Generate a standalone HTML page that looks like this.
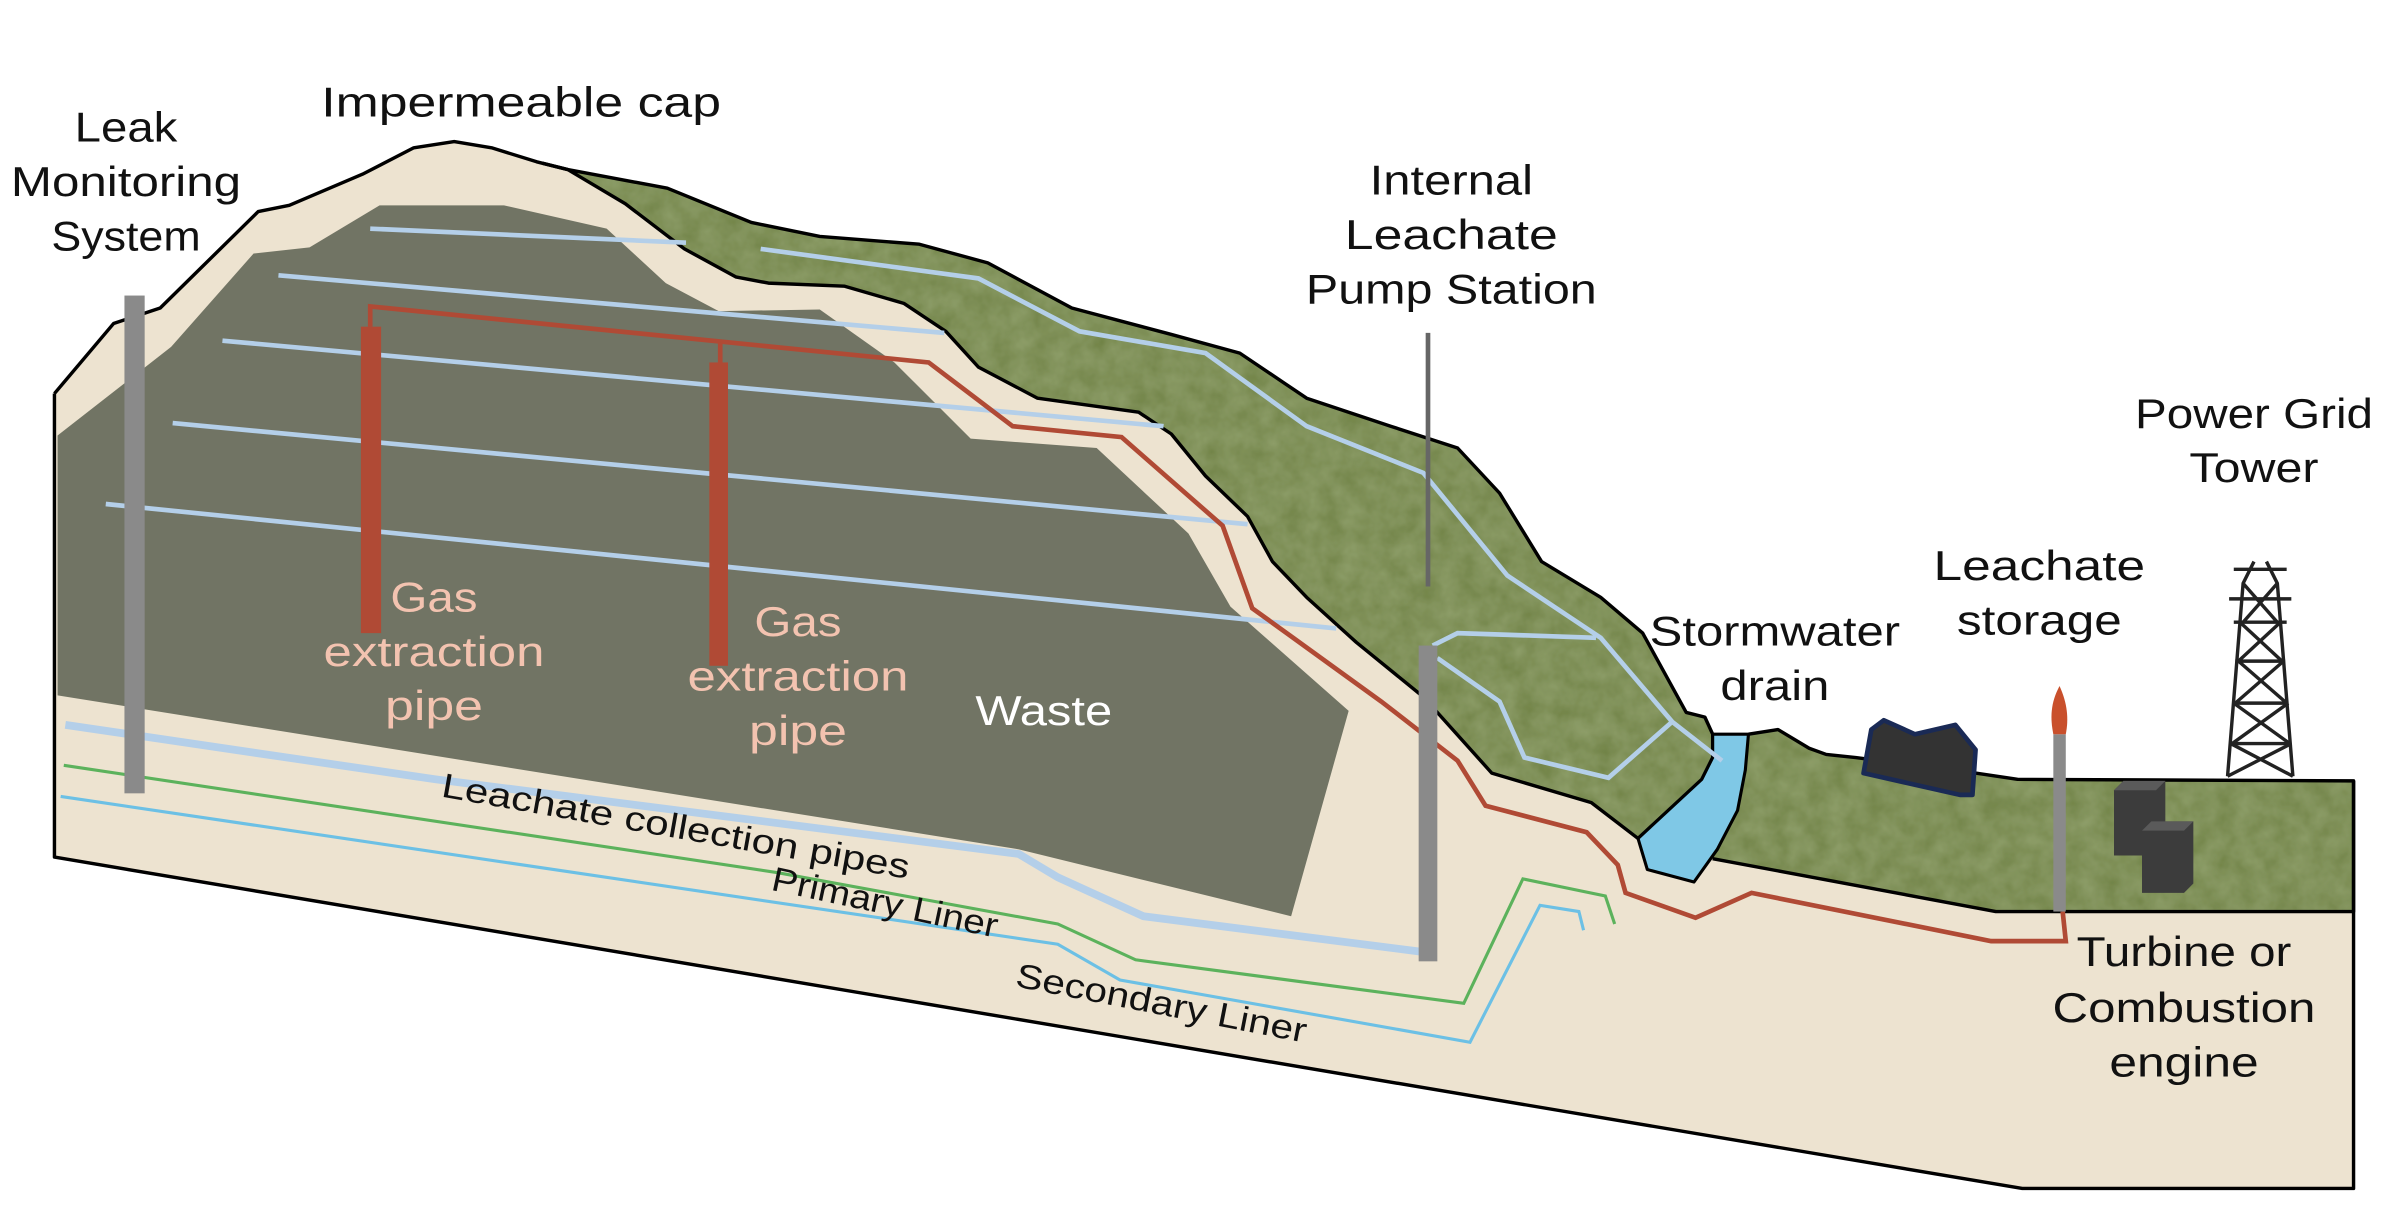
<!DOCTYPE html>
<html><head><meta charset="utf-8"><style>
html,body{margin:0;padding:0;background:#fff;}
svg{display:block;}
text{font-family:"Liberation Sans",sans-serif;}
</style></head><body>
<svg width="2408" height="1218" viewBox="0 0 1548 783" xmlns="http://www.w3.org/2000/svg">
<defs>
<filter id="grass" x="0" y="0" width="100%" height="100%">
<feTurbulence type="fractalNoise" baseFrequency="0.08" numOctaves="3" seed="3" result="n"/>
<feColorMatrix in="n" type="matrix" values="0 0 0 0 0.40  0 0 0 0 0.48  0 0 0 0 0.24  0 0 0 0.5 0" result="c"/>
<feComposite in="c" in2="SourceGraphic" operator="in" result="t"/>
<feMerge><feMergeNode in="SourceGraphic"/><feMergeNode in="t"/></feMerge>
</filter>
</defs>

<path d="M35,253 L73,208 L103,198 L166,136 L186,132 L233,112 L266,95 L292,91 L316,95 L345,104 L365,109 L429,121 L483,143 L527,152 L591,157 L635,169 L689,198 L753,215 L797,227 L840,256 L894,274 L937,288 L964,317 L991,361 L1029,384 L1056,407 L1084,458 L1096,461 L1101,472 L1124,472 L1143,469 L1163,481 L1174,485 L1193,487 L1270,497 L1297,501 L1513,502 L1513,764 L1300,764 L35,551 Z" fill="#ede3d0"/>

<path d="M37,280 L110,223 L163,163 L199,159 L244,132 L324,132 L390,147 L428,182 L462,200 L527,199 L575,233 L624,282 L705,288 L764,343 L791,390 L867,457 L830,589 L655,546 L37,447 Z" fill="#717464"/>

<path id="cap" d="M349,105 L365,109 L429,121 L483,143 L527,152 L591,157 L635,169 L689,198 L753,215 L797,227 L840,256 L894,274 L937,288 L964,317 L991,361 L1029,384 L1056,407 L1084,458 L1096,461 L1101,472 L1101,487 L1094,501 L1053,539 L1023,516 L959,497 L915,448 L872,413 L840,384 L818,361 L802,332 L775,306 L753,279 L732,265 L667,256 L629,236 L608,213 L581,195 L543,184 L494,182 L473,178 L440,160 L402,131 L365,109 Z" fill="#6f8244" filter="url(#grass)"/>
<path d="M349,105 L365,109 L429,121 L483,143 L527,152 L591,157 L635,169 L689,198 L753,215 L797,227 L840,256 L894,274 L937,288 L964,317 L991,361 L1029,384 L1056,407 L1084,458 L1096,461 L1101,472 L1101,487 L1094,501 L1053,539 L1023,516 L959,497 L915,448 L872,413 L840,384 L818,361 L802,332 L775,306 L753,279 L732,265 L667,256 L629,236 L608,213 L581,195 L543,184 L494,182 L473,178 L440,160 L402,131 L365,109 Z" fill="none" stroke="#000" stroke-width="2.2" stroke-linejoin="round"/>

<path d="M1124,472 L1143,469 L1163,481 L1174,485 L1193,487 L1270,497 L1297,501 L1513,502 L1513,586 L1283,586 L1101,552 Z" fill="#6f8244" filter="url(#grass)"/>
<path d="M1124,472 L1143,469 L1163,481 L1174,485 L1193,487 L1270,497 L1297,501 L1513,502 L1513,586 L1283,586 L1101,552" fill="none" stroke="#000" stroke-width="2.2" stroke-linejoin="round"/>

<path d="M1101,472 L1124,472 L1122,495 L1117,521 L1104,546 L1089,567 L1059,559 L1053,539 L1094,501 L1101,487 Z" fill="#7fc8e6" stroke="#000" stroke-width="2" stroke-linejoin="round"/>

<path d="M35,253 L35,551 L1300,764 L1513,764 L1513,502 M35,253 L73,208 L103,198 L166,136 L186,132 L233,112 L266,95 L292,91 L316,95 L345,104 L365,109" fill="none" stroke="#000" stroke-width="2.2" stroke-linejoin="round"/>

<g stroke="#b4cfe9" stroke-width="3" fill="none">
<line x1="238" y1="147" x2="441" y2="156"/>
<line x1="179" y1="177" x2="607" y2="214"/>
<line x1="143" y1="219" x2="748" y2="274"/>
<line x1="111" y1="272" x2="802" y2="337"/>
<line x1="68" y1="324" x2="859" y2="404"/>
<polyline points="489,160 629,179 694,213 775,227 840,274 915,304 969,370 1029,410 1075,464 1107,489"/>
<polyline points="921,415 937,407 1026,410"/>
<polyline points="924,423 964,451 980,487 1034,500 1075,464"/>
<polyline stroke-width="5" points="42,466 280,501 655,549 680,564 735,589 915,612"/>
</g>
<polyline points="41,492 500,561 680,594 730,617 941,645 979,565 1032,576 1038,594" fill="none" stroke="#5cb25c" stroke-width="2"/>
<polyline points="39,512 680,607 720,630 945,670 990,582 1015,586 1018,598" fill="none" stroke="#6cc0e5" stroke-width="2"/>

<polyline points="238,210 238,197 597,233 651,274 721,281 786,338 805,391 888,451 937,489 955,518 1020,535 1040,556 1045,574 1090,590 1126,574 1280,605 1328,605 1326,586" fill="none" stroke="#b04a35" stroke-width="3"/>
<line x1="463" y1="220" x2="463" y2="234" stroke="#b04a35" stroke-width="3"/>
<rect x="232" y="210" width="13" height="197" fill="#b04a35"/>
<rect x="456" y="233" width="12" height="195" fill="#b04a35"/>

<rect x="80" y="190" width="13" height="320" fill="#8a8a8a"/>
<line x1="918" y1="214" x2="918" y2="377" stroke="#666" stroke-width="3"/>
<rect x="912" y="415" width="12" height="203" fill="#8a8a8a"/>
<rect x="1320" y="472" width="8" height="114" fill="#8a8a8a"/>
<path d="M1324,441 C1318,452 1318,462 1320,472 L1328,472 C1330,462 1329,452 1324,441 Z" fill="#c9502c"/>

<path d="M1203,469 L1211,463 L1231,472 L1257,466 L1270,482 L1268,511 L1260,511 L1198,497 Z" fill="#333" stroke="#1a2a55" stroke-width="3" stroke-linejoin="round"/>

<path d="M1359,508 L1365,502 L1392,502 L1392,550 L1359,550 Z" fill="#3c3c3c"/>
<path d="M1359,508 L1365,502 L1392,502 L1386,508 Z" fill="#5a5a5a"/>
<path d="M1377,534 L1383,528 L1410,528 L1410,568 L1404,574 L1377,574 Z" fill="#3c3c3c"/>
<path d="M1377,534 L1383,528 L1410,528 L1404,534 Z" fill="#5a5a5a"/>

<g stroke="#222" stroke-width="2.2" fill="none">
<path d="M1449,361 L1442,375 L1432,499 M1457,361 L1464,375 L1474,499"/>
<path d="M1436,366 L1470,366 M1433,385 L1473,385 M1436,400 L1470,400 M1437,425 L1469,425 M1435,452 L1471,452 M1433,478 L1473,478"/>
<path d="M1442,375 L1464,400 M1464,375 L1442,400 M1440,400 L1467,425 M1466,400 L1439,425 M1439,425 L1470,452 M1468,425 L1437,452 M1436,452 L1472,478 M1471,452 L1435,478 M1434,478 L1474,499 M1473,478 L1432,499"/>
</g>

<g font-size="27" fill="#111" text-anchor="middle">
<text x="81" y="91" textLength="66" lengthAdjust="spacingAndGlyphs">Leak</text>
<text x="81" y="126" textLength="148" lengthAdjust="spacingAndGlyphs">Monitoring</text>
<text x="81" y="161" textLength="96" lengthAdjust="spacingAndGlyphs">System</text>
<text x="335" y="75" textLength="257" lengthAdjust="spacingAndGlyphs">Impermeable cap</text>
<text x="933" y="125" textLength="105" lengthAdjust="spacingAndGlyphs">Internal</text>
<text x="933" y="160" textLength="137" lengthAdjust="spacingAndGlyphs">Leachate</text>
<text x="933" y="195" textLength="187" lengthAdjust="spacingAndGlyphs">Pump Station</text>
<text x="1449" y="275" textLength="153" lengthAdjust="spacingAndGlyphs">Power Grid</text>
<text x="1449" y="310" textLength="83" lengthAdjust="spacingAndGlyphs">Tower</text>
<text x="1311" y="373" textLength="136" lengthAdjust="spacingAndGlyphs">Leachate</text>
<text x="1311" y="408" textLength="106" lengthAdjust="spacingAndGlyphs">storage</text>
<text x="1141" y="415" textLength="161" lengthAdjust="spacingAndGlyphs">Stormwater</text>
<text x="1141" y="450" textLength="70" lengthAdjust="spacingAndGlyphs">drain</text>
<text x="1404" y="621" textLength="138" lengthAdjust="spacingAndGlyphs">Turbine or</text>
<text x="1404" y="657" textLength="169" lengthAdjust="spacingAndGlyphs">Combustion</text>
<text x="1404" y="692" textLength="96" lengthAdjust="spacingAndGlyphs">engine</text>
</g>
<g font-size="27" fill="#f3c3b0" text-anchor="middle">
<text x="279" y="393" textLength="56" lengthAdjust="spacingAndGlyphs">Gas</text>
<text x="279" y="428" textLength="142" lengthAdjust="spacingAndGlyphs">extraction</text>
<text x="279" y="463" textLength="63" lengthAdjust="spacingAndGlyphs">pipe</text>
<text x="513" y="409" textLength="56" lengthAdjust="spacingAndGlyphs">Gas</text>
<text x="513" y="444" textLength="142" lengthAdjust="spacingAndGlyphs">extraction</text>
<text x="513" y="479" textLength="63" lengthAdjust="spacingAndGlyphs">pipe</text>
</g>
<text x="671" y="466" font-size="27" fill="#fff" text-anchor="middle" textLength="88" lengthAdjust="spacingAndGlyphs">Waste</text>
<g font-size="22" fill="#111">
<text x="283" y="512" transform="rotate(10 283 512)" textLength="305" lengthAdjust="spacingAndGlyphs">Leachate collection pipes</text>
<text x="495" y="572" transform="rotate(12 495 572)" textLength="148" lengthAdjust="spacingAndGlyphs">Primary Liner</text>
<text x="652" y="634" transform="rotate(11 652 634)" textLength="190" lengthAdjust="spacingAndGlyphs">Secondary Liner</text>
</g>
</svg>
</body></html>
